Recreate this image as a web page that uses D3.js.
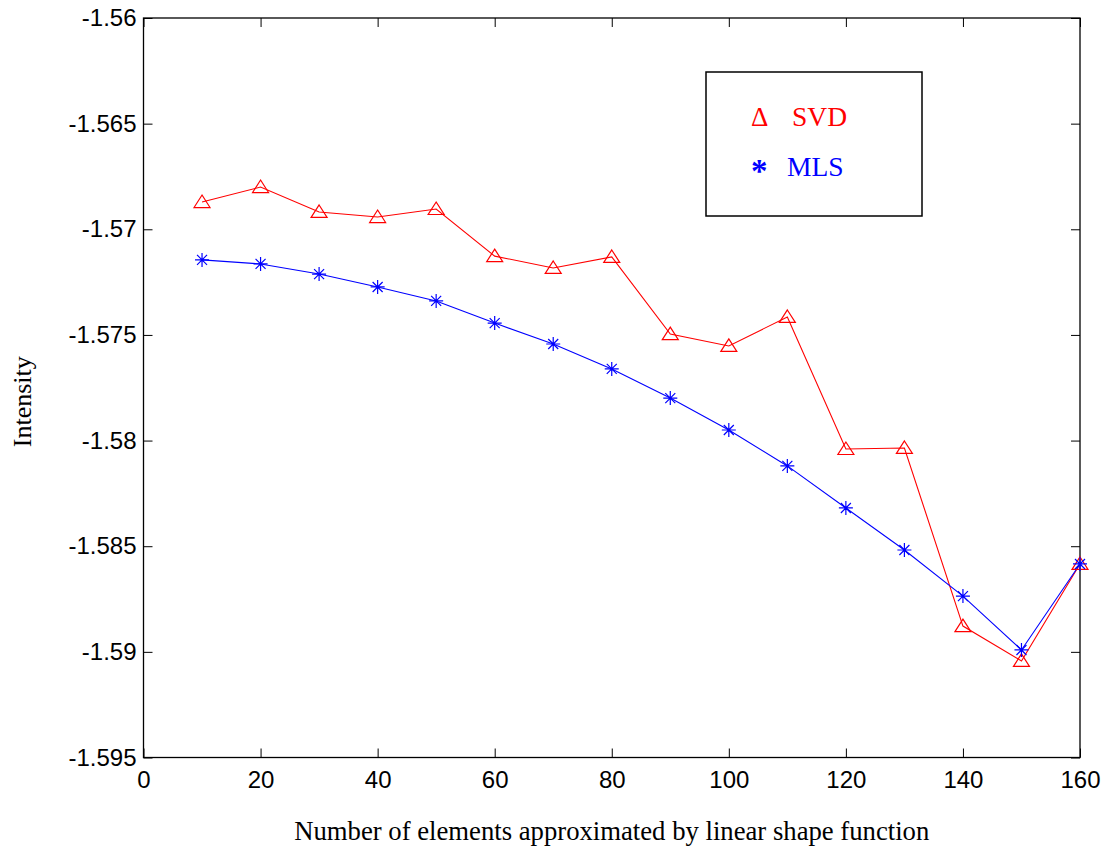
<!DOCTYPE html>
<html>
<head>
<meta charset="utf-8">
<script src="https://cdn.jsdelivr.net/npm/d3@7"></script>
<style>
  body { margin: 0; background: #fff; }
  svg { display: block; }
</style>
</head>
<body>
<svg width="1108" height="850"></svg>
<script>
// values
const elements = [10, 20, 30, 40, 50, 60, 70, 80, 90, 100, 110, 120, 130, 140, 150, 160];
const svdIntensity = [-1.56871, -1.5680, -1.56918, -1.56942, -1.56904, -1.57127, -1.57183, -1.57131,
                      -1.57496, -1.57552, -1.57415, -1.5804, -1.58035, -1.58878, -1.59043, -1.58584];
const mlsIntensity = [-1.57145, -1.57164, -1.57212, -1.57273, -1.57339, -1.57444, -1.57543, -1.57661,
                      -1.57799, -1.5795, -1.5812, -1.58319, -1.58518, -1.58736, -1.58991, -1.58584];
const xTicks = [0, 20, 40, 60, 80, 100, 120, 140, 160];
const yTicks = [-1.56, -1.565, -1.57, -1.575, -1.58, -1.585, -1.59, -1.595];
const yTickLabels = ['-1.56', '-1.565', '-1.57', '-1.575', '-1.58', '-1.585', '-1.59', '-1.595'];

const svg = d3.select('svg');
const margin = {left: 143.5, top: 18, right: 1080, bottom: 757.5};

const x = d3.scaleLinear().domain([0, 160]).range([margin.left, margin.right]);
const y = d3.scaleLinear().domain([-1.595, -1.56]).range([margin.bottom, margin.top]);

const tickFont = 'Liberation Sans, Arial, sans-serif';
const serif = 'Liberation Serif, Times New Roman, serif';

const styleAxis = g => {
  g.select('.domain').remove();
  g.selectAll('line').attr('stroke', '#000').attr('stroke-width', 1);
  g.selectAll('text').attr('fill', '#000').style('font-family', tickFont).style('font-size', '24px');
};

// bottom + top
svg.append('g')
  .attr('transform', `translate(0,${margin.bottom})`)
  .call(d3.axisBottom(x).tickValues(xTicks).tickSize(-9).tickPadding(13).tickFormat(d3.format('d')))
  .call(styleAxis);
svg.append('g')
  .attr('transform', `translate(0,${margin.top})`)
  .call(d3.axisTop(x).tickValues(xTicks).tickSize(-9).tickFormat(''))
  .call(styleAxis);

// left + right
svg.append('g')
  .attr('transform', `translate(${margin.left},0)`)
  .call(d3.axisLeft(y).tickValues(yTicks).tickSize(-9).tickPadding(7)
    .tickFormat((d, i) => yTickLabels[i]))
  .call(styleAxis);
svg.append('g')
  .attr('transform', `translate(${margin.right},0)`)
  .call(d3.axisRight(y).tickValues(yTicks).tickSize(-9).tickFormat(''))
  .call(styleAxis);

// frame
svg.append('rect')
  .attr('x', margin.left).attr('y', margin.top)
  .attr('width', margin.right - margin.left)
  .attr('height', margin.bottom - margin.top)
  .attr('fill', 'none').attr('stroke', '#000').attr('stroke-width', 1.3);

const line = d3.line().x(d => x(d[0])).y(d => y(d[1]));
const svdData = elements.map((e, i) => [e, svdIntensity[i]]);
const mlsData = elements.map((e, i) => [e, mlsIntensity[i]]);

svg.append('path').datum(svdData)
  .attr('d', line).attr('fill', 'none').attr('stroke', '#ff0000').attr('stroke-width', 1.1);
svg.append('path').datum(mlsData)
  .attr('d', line).attr('fill', 'none').attr('stroke', '#0000ff').attr('stroke-width', 1.1);

// triangle markers
svg.append('g').selectAll('path').data(svdData).join('path')
  .attr('transform', d => `translate(${x(d[0])},${y(d[1])})`)
  .attr('d', 'M0,-7L8,5.5L-8,5.5Z')
  .attr('fill', 'none').attr('stroke', '#ff0000').attr('stroke-width', 1.2);

// asterisk markers
const star = 'M0,-7V7M-7,0H7M-5,-5L5,5M-5,5L5,-5';
svg.append('g').selectAll('path').data(mlsData).join('path')
  .attr('transform', d => `translate(${x(d[0])},${y(d[1])})`)
  .attr('d', star)
  .attr('fill', 'none').attr('stroke', '#0000ff').attr('stroke-width', 1.2);

// legend
const legend = svg.append('g');
legend.append('rect')
  .attr('x', 706).attr('y', 72).attr('width', 216).attr('height', 144)
  .attr('fill', '#fff').attr('stroke', '#000').attr('stroke-width', 1.5);
legend.append('text').attr('x', 751).attr('y', 126).text('Δ')
  .attr('fill', '#ff0000').style('font-family', serif).style('font-size', '27px');
legend.append('text').attr('x', 792).attr('y', 126).text('SVD')
  .attr('fill', '#ff0000').style('font-family', serif).style('font-size', '27.5px');
legend.append('text').attr('x', 751).attr('y', 182).text('*')
  .attr('fill', '#0000ff').style('font-family', serif).style('font-size', '33px')
  .style('font-weight', 'bold');
legend.append('text').attr('x', 787).attr('y', 176).text('MLS')
  .attr('fill', '#0000ff').style('font-family', serif).style('font-size', '27.5px');

// axis titles
svg.append('text')
  .attr('x', (margin.left + margin.right) / 2).attr('y', 840)
  .attr('text-anchor', 'middle')
  .style('font-family', serif).style('font-size', '26.7px')
  .text('Number of elements approximated by linear shape function');
svg.append('text')
  .attr('transform', `translate(31,${(margin.top + margin.bottom) / 2 + 14}) rotate(-90)`)
  .attr('text-anchor', 'middle')
  .style('font-family', serif).style('font-size', '26px')
  .text('Intensity');
</script>
</body>
</html>
